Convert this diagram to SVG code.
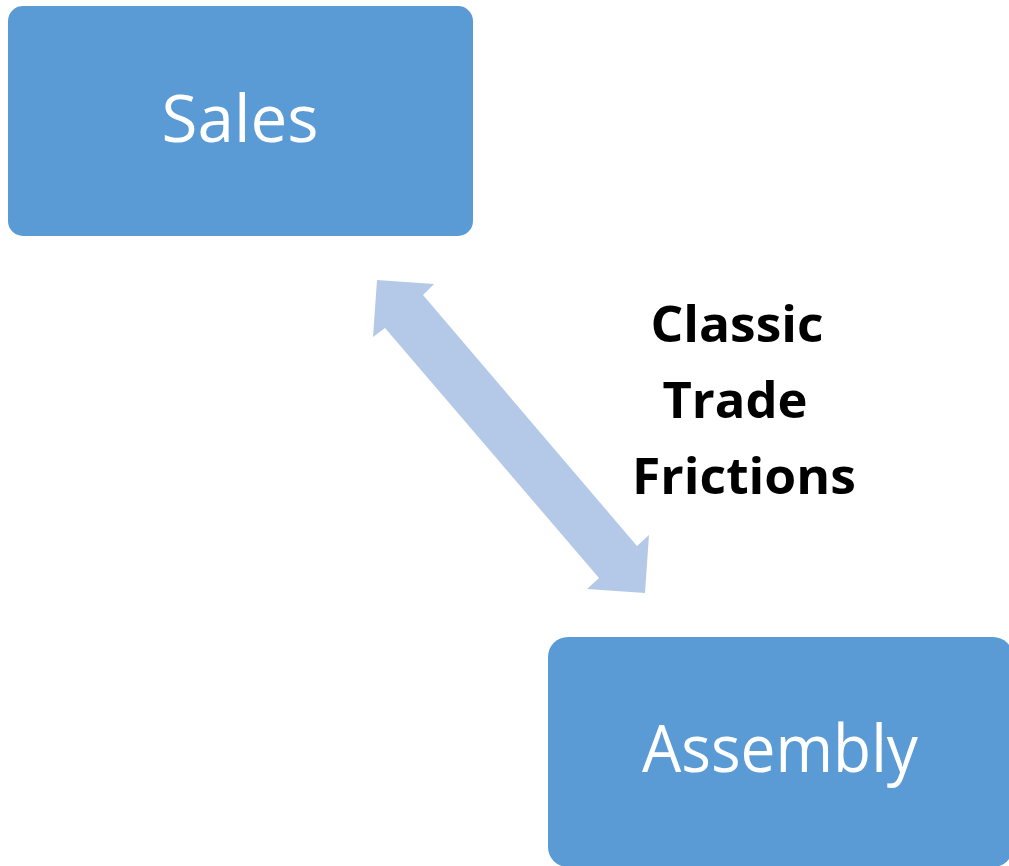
<svg xmlns="http://www.w3.org/2000/svg" width="1009" height="866" viewBox="0 0 1009 866">
<style>
.box{fill:#5B9BD5;}
.boxtxt{font-family:"Open Sans","Liberation Sans",sans-serif;font-size:66px;fill:#FFFFFF;text-anchor:middle;}
.lbl{font-family:"Open Sans","Liberation Sans",sans-serif;font-weight:bold;font-size:51px;fill:#000000;text-anchor:middle;}
.arrow{fill:#B4C9E8;}
</style>
<rect width="1009" height="866" fill="#FFFFFF"/>
<g id="connectors">
<polygon class="arrow" points="377,280 434,284 423,295 637,546 649,535 645,593 587,589 599,578 385,328 373,337"/>
</g>
<g id="sales">
<rect class="box" x="8" y="6" width="465" height="230" rx="15" ry="15"/>
<text class="boxtxt" x="240" y="142" textLength="157" lengthAdjust="spacingAndGlyphs">Sales</text>
</g>
<g id="assembly">
<rect class="box" x="548" y="637" width="465" height="230" rx="20" ry="20"/>
<text class="boxtxt" x="780" y="772" textLength="276" lengthAdjust="spacingAndGlyphs">Assembly</text>
</g>
<g id="label">
<text class="lbl" x="737" y="342" textLength="173" lengthAdjust="spacingAndGlyphs">Classic</text>
<text class="lbl" x="735" y="418" textLength="145" lengthAdjust="spacingAndGlyphs">Trade</text>
<text class="lbl" x="744" y="494" textLength="224" lengthAdjust="spacingAndGlyphs">Frictions</text>
</g>
</svg>
